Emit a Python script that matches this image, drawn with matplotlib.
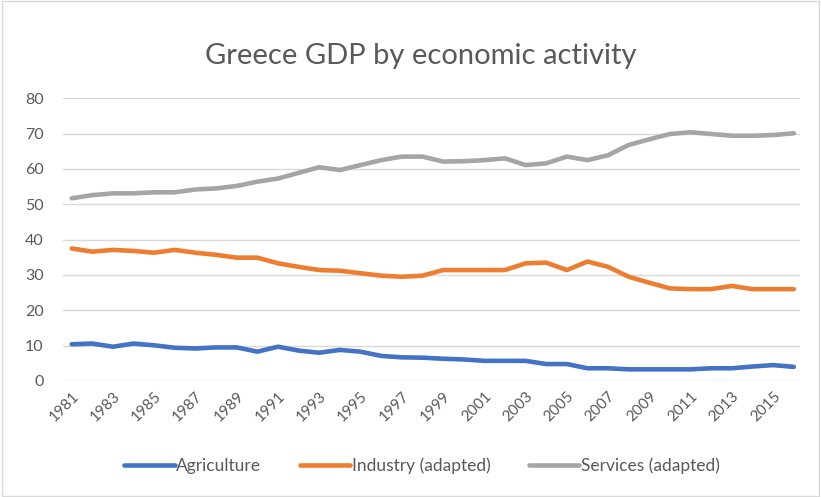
import matplotlib
matplotlib.use("Agg")
import matplotlib.pyplot as plt
from matplotlib.patches import Rectangle

years = list(range(1981, 2017))
agriculture = [10.4, 10.6, 9.7, 10.6, 10.1, 9.4, 9.2, 9.5, 9.5, 8.3,
               9.7, 8.6, 8.0, 8.8, 8.3, 7.1, 6.7, 6.6, 6.3, 6.1,
               5.7, 5.7, 5.7, 4.8, 4.8, 3.6, 3.6, 3.3, 3.3, 3.3,
               3.3, 3.6, 3.6, 4.1, 4.5, 4.0]
industry = [37.5, 36.6, 37.1, 36.8, 36.3, 37.1, 36.3, 35.7, 34.9, 34.9,
            33.3, 32.3, 31.4, 31.2, 30.5, 29.8, 29.5, 29.8, 31.4, 31.4,
            31.4, 31.4, 33.3, 33.5, 31.4, 33.8, 32.3, 29.5, 27.8, 26.2,
            26.0, 26.0, 26.9, 26.0, 26.0, 26.0]
services = [51.7, 52.6, 53.1, 53.1, 53.4, 53.4, 54.2, 54.5, 55.2, 56.4,
            57.3, 58.9, 60.5, 59.7, 61.1, 62.5, 63.5, 63.5, 62.1, 62.2,
            62.5, 63.0, 61.1, 61.6, 63.5, 62.5, 63.9, 66.8, 68.4, 69.9,
            70.4, 69.9, 69.4, 69.4, 69.6, 70.1]
series_names = ["Agriculture", "Industry (adapted)", "Services (adapted)"]
colors = ["#4472C4", "#ED7D31", "#A5A5A5"]
title = "Greece GDP by economic activity"
yticks = list(range(0, 81, 10))
xticks = list(range(1981, 2016, 2))

plt.rcParams['font.family'] = ['Lato', 'DejaVu Sans']
text_color = "#595959"

fig = plt.figure(figsize=(8.21, 4.97), dpi=100)
ax = fig.add_axes([63/821, 1-381/497, (800-63)/821, (381-98.3)/497])

for vals, name, c in zip([agriculture, industry, services], series_names, colors):
    ax.plot(years, vals, color=c, lw=3.3, label=name, solid_capstyle='round', solid_joinstyle='round')

ax.set_ylim(0, 80)
ax.set_xlim(1980.58, 2016.3)
ax.set_yticks(yticks)
ax.set_xticks(xticks)
ax.set_xticklabels([str(y) for y in xticks], rotation=45, ha='right', rotation_mode='anchor',
                   fontsize=11, color=text_color)
ax.tick_params(axis='y', labelsize=11.5, labelcolor=text_color, length=0, pad=14)
ax.tick_params(axis='x', length=0, pad=6)
ax.grid(axis='y', color='#D9D9D9', lw=1)
ax.set_axisbelow(True)
for s in ax.spines.values():
    s.set_visible(False)

fig.text(0.512, 1-56/497, title, ha='center', va='center', fontsize=21, color=text_color)

leg = fig.legend(loc='center', bbox_to_anchor=(0.514, 1-466/497), ncol=3, frameon=False,
                 fontsize=12.5, handlelength=2.9, handletextpad=0.1, columnspacing=2.2)
for t in leg.get_texts():
    t.set_color(text_color)

fig.patches.append(Rectangle((0.002, 0.002), 0.996, 0.996, transform=fig.transFigure,
                             fill=False, edgecolor='#D9D9D9', lw=1))

fig.savefig("out.png", dpi=100)
